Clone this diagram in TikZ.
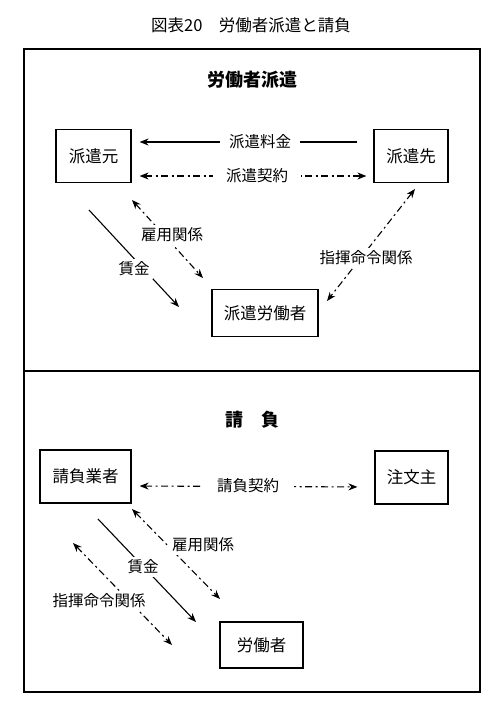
\documentclass[tikz,border=0pt]{standalone}
\usepackage{fontspec}
\setmainfont{Noto Sans CJK JP}
\usetikzlibrary{arrows.meta}

\begin{document}
\begin{tikzpicture}[x=1pt,y=-1pt,
  box/.style={draw,line width=1.2pt,minimum height=53pt,inner sep=0pt,font=\fontsize{16.5}{16.5}\selectfont},
  lbl/.style={fill=white,inner sep=3pt,font=\fontsize{15.5}{16}\selectfont},
  hlbl/.style={lbl,inner xsep=9pt},
  heading/.style={font=\bfseries\fontsize{18}{18}\selectfont},
  wire/.style={line width=1.1pt},
  dashdot/.style={wire,dash pattern=on 7pt off 3.5pt on 2pt off 3.5pt},
  tip/.style={-{Stealth[length=9pt,width=7pt]}},
  tips/.style={{Stealth[length=9pt,width=7pt]}-{Stealth[length=9pt,width=7pt]}}]
\useasboundingbox (0,0) rectangle (500,707);

% Title
 \node (title) at (251,25) {\fontsize{16.5}{16.5}\selectfont 図表20　労働者派遣と請負};

% Frames
 \draw[line width=1.2pt] (24,49) rectangle (480,692);
 \draw[line width=1.2pt] (24,371) -- (480,371);

% Haken
 \node[heading] (hakenhead) at (252,80) {労働者派遣};
 \node[box,minimum width=75pt] (moto) at (93.5,156) {派遣元};
 \node[box,minimum width=74pt] (saki) at (411,156) {派遣先};
 \node[box,minimum width=106pt,minimum height=47pt] (hakenrodo) at (265,313) {派遣労働者};

 \coordinate (chinA) at (89,210);
 \coordinate (chinB) at (179,307);
 \coordinate (koyoA) at (132,200);
 \coordinate (koyoB) at (203,278);
 \coordinate (shikiA) at (415,189);
 \coordinate (shikiB) at (327,301);

 \draw[wire,tip,shorten <=16pt,shorten >=8pt] ([yshift=14pt]saki.west) -- ([yshift=14pt]moto.east);
 \draw[dashdot,tips,shorten <=8pt,shorten >=7pt] ([yshift=-20pt]moto.east) -- ([yshift=-20pt]saki.west);
 \draw[wire,tip] (chinA) -- (chinB);
 \draw[dashdot,tips] (koyoA) -- (koyoB);
 \draw[dashdot,tips] (shikiA) -- (shikiB);

 \node[hlbl] (ryokin) at (260,142) {派遣料金};
 \node[hlbl,inner xsep=13pt] (keiyaku) at (257,176) {派遣契約};
 \node[lbl] (chin) at (134,269) {賃金};
 \node[lbl] (koyo) at (172,235) {雇用関係};
 \node[lbl] (shiki) at (366,258) {指揮命令関係};

% Ukeoi
 \node[heading] (ukeoihead) at (252,420) {請　負};
 \node[box,minimum width=91pt] (ukeoi) at (85.5,476.5) {請負業者};
 \node[box,minimum width=73pt] (chumon) at (411.5,477.5) {注文主};
 \node[box,minimum width=83pt,minimum height=46pt] (rodo) at (261.5,645) {労働者};

 \coordinate (ukoyoA) at (132,509);
 \coordinate (ukoyoB) at (220,599);
 \coordinate (uchinA) at (98,519);
 \coordinate (uchinB) at (196,622);
 \coordinate (ushikiA) at (73,543);
 \coordinate (ushikiB) at (172,645);

 \draw[dashdot,tips,shorten <=8pt,shorten >=17pt] ([yshift=-9.5pt]ukeoi.east) -- ([yshift=-9.5pt]chumon.west);
 \draw[dashdot,tips] (ukoyoA) -- (ukoyoB);
 \draw[wire,tip] (uchinA) -- (uchinB);
 \draw[dashdot,tips] (ushikiA) -- (ushikiB);

 \node[hlbl,inner xsep=15pt] (ukeyaku) at (248,486) {請負契約};
 \node[lbl] (ukoyo) at (203,545) {雇用関係};
 \node[lbl] (uchin) at (143,567) {賃金};
 \node[lbl] (ushiki) at (99,601) {指揮命令関係};

\end{tikzpicture}
\end{document}
